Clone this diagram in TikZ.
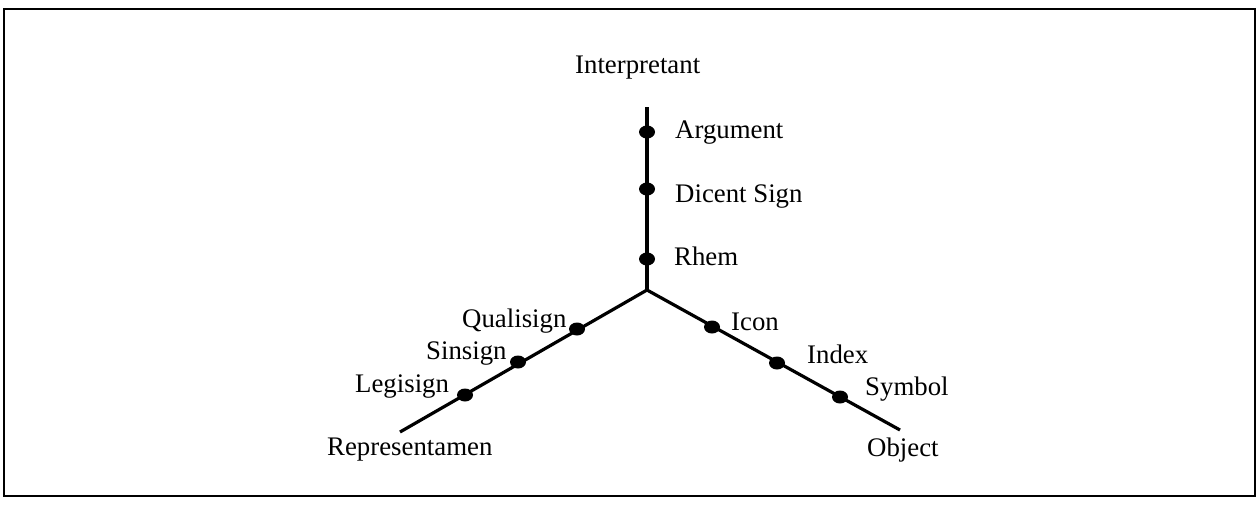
\documentclass[tikz,border=0pt]{standalone}
\usepackage{fontspec}
\setmainfont{Liberation Serif}
\usetikzlibrary{shapes.geometric}
\begin{document}
\begin{tikzpicture}[x=1pt,y=-1pt,
  axis/.style={line width=3.2pt,black},
  dot/.style={ellipse,fill=black,inner sep=0pt,minimum width=16pt,minimum height=13pt},
  lbl/.style={anchor=base west,inner sep=0pt,font=\fontsize{26.8}{30}\selectfont},
  frame/.style={line width=2.6pt,black}]
\useasboundingbox (0,0) rectangle (1257,506);
\draw[frame] (4,9) rectangle (1255,496);
% axes
\coordinate (c) at (647,290);
\coordinate (top) at (647,107);
\coordinate (lend) at (400,432);
\coordinate (rend) at (900,430);
\draw[axis] (c) -- (top);
\draw[axis] (c) -- (lend);
\draw[axis] (c) -- (rend);
% dots
\node[dot] (arg) at (647,132) {};
\node[dot] (dic) at (647,189) {};
\node[dot] (rhe) at (647,259) {};
\node[dot] (qua) at (577,329) {};
\node[dot] (sin) at (518,362) {};
\node[dot] (leg) at (465,395) {};
\node[dot] (ico) at (712,327) {};
\node[dot] (ind) at (777,363) {};
\node[dot] (sym) at (840,397) {};
% labels
\node[lbl] (tint) at (575,73) {Interpretant};
\node[lbl] (targ) at (675,138) {Argument};
\node[lbl] (tdic) at (675,202) {Dicent Sign};
\node[lbl] (trhe) at (674,265) {Rhem};
\node[lbl] (tqua) at (462,327) {Qualisign};
\node[lbl] (tsin) at (426,359) {Sinsign};
\node[lbl] (tleg) at (355,392) {Legisign};
\node[lbl] (trep) at (327,455) {Representamen};
\node[lbl] (tico) at (731,330) {Icon};
\node[lbl] (tind) at (807,363) {Index};
\node[lbl] (tsym) at (865,395) {Symbol};
\node[lbl] (tobj) at (867,456) {Object};
\end{tikzpicture}
\end{document}
